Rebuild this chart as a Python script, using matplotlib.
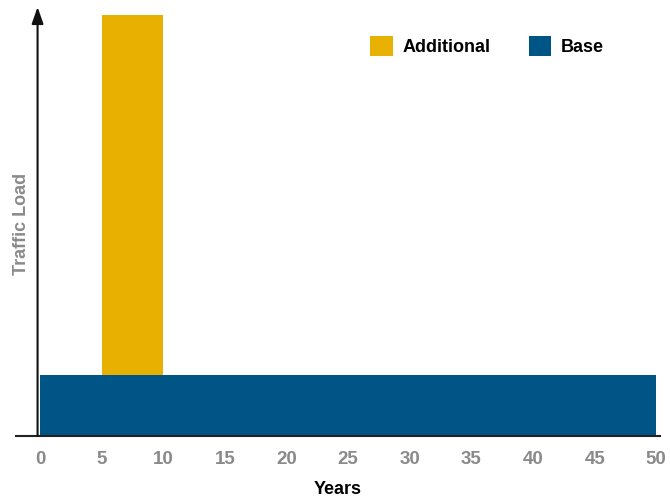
import matplotlib
matplotlib.use('Agg')
import matplotlib.pyplot as plt

plt.rcParams['font.family'] = ['Liberation Sans', 'DejaVu Sans']

# data
years = [0, 5, 10, 15, 20, 25, 30, 35, 40, 45, 50]
base_start, base_end, base_load = 0, 50, 1.0
add_start, add_end, add_load = 5, 10, 5.9

yellow = '#E8B000'
blue = '#005587'
grey = '#8A8A8A'

fig = plt.figure(figsize=(6.7, 4.98), dpi=100)
ax = fig.add_axes([16 / 670, 62 / 498, 644 / 670, 429 / 498])

ax.bar(base_start, base_load, width=base_end - base_start, align='edge',
       color=blue, label='Base', zorder=2)
ax.bar(add_start, add_load, width=add_end - add_start, bottom=base_load,
       align='edge', color=yellow, label='Additional', zorder=2)

ax.set_xlim(-1.95, 50.3)
ax.set_ylim(0, 7.03)

for s in ['top', 'right', 'left']:
    ax.spines[s].set_visible(False)
ax.spines['bottom'].set_linewidth(1.5)
ax.spines['bottom'].set_color('#222222')

# y axis drawn as an arrow
ax.annotate('', xy=(-0.2, 7.03), xytext=(-0.2, 0),
            arrowprops=dict(arrowstyle='-|>,head_width=0.35,head_length=1.0',
                            color='#111111', lw=1.5, shrinkA=0, shrinkB=0),
            annotation_clip=False)

ax.set_xticks(years)
ax.set_xticklabels([str(y) for y in years], color=grey, fontsize=13.5,
                   fontweight='bold')
ax.tick_params(axis='x', length=0, pad=11)
ax.set_yticks([])

ax.set_xlabel('Years', fontsize=13, fontweight='bold', labelpad=9)
fig.text(22 / 670, 1 - 224 / 498, 'Traffic Load', rotation=90, color=grey,
         fontsize=13, fontweight='bold', ha='center', va='center')

h, l = ax.get_legend_handles_labels()
ax.legend(h[::-1], l[::-1], ncol=2, frameon=False,
          prop={'weight': 'bold', 'size': 13},
          handlelength=1.25, handleheight=1.35, handletextpad=0.55,
          columnspacing=2.1, loc='center left',
          bbox_to_anchor=(354 / 670, 1 - 46 / 498), bbox_transform=fig.transFigure)

fig.savefig('out.png', dpi=100)
